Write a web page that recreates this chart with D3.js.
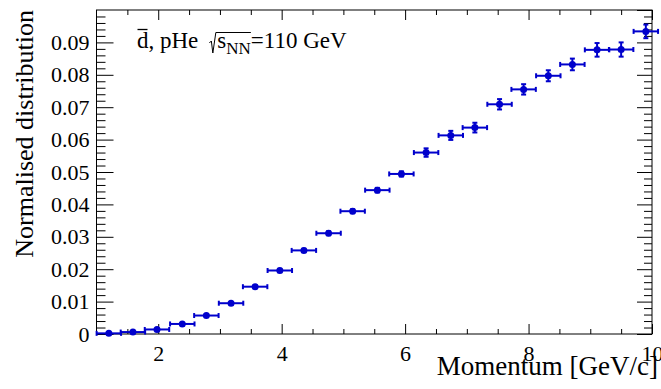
<!DOCTYPE html>
<html>
<head>
<meta charset="utf-8">
<script src="https://cdn.jsdelivr.net/npm/d3@7"></script>
<style>
  body{margin:0;background:#fff;}
  svg{display:block;font-family:"Liberation Serif","Times New Roman",serif;}
  svg text{font-family:"Liberation Serif","Times New Roman",serif;}
</style>
</head>
<body>
<svg id="chart" width="661" height="389"></svg>
<script>
// momentum bin centres [GeV/c]
const binCenters = [1.20,1.59,1.98,2.39,2.78,3.18,3.57,3.97,4.36,4.76,5.15,5.55,5.94,6.34,6.74,7.13,7.53,7.92,8.32,8.71,9.11,9.50,9.90];
const binHalfWidth = 0.198;
// normalised distribution
const values = [0.0002,0.0006,0.0014,0.0031,0.0057,0.0095,0.0146,0.0196,0.0258,0.0311,0.0379,0.0444,0.0494,0.0560,0.0613,0.0637,0.0709,0.0755,0.0797,0.0832,0.0877,0.0878,0.0934];
const errors = [0.0001,0.0001,0.0002,0.0002,0.0003,0.0003,0.0004,0.0005,0.0005,0.0006,0.0006,0.0007,0.0008,0.0013,0.0014,0.0015,0.0016,0.0016,0.0017,0.0018,0.0021,0.0022,0.0021];
const xMajor = [2,4,6,8,10];
const yMajor = [0,0.01,0.02,0.03,0.04,0.05,0.06,0.07,0.08,0.09];
const xTitle = 'Momentum [GeV/c]';
const yTitle = 'Normalised distribution';

const frame = {left:96.5,right:652,top:10,bottom:334};
const blue = '#0000cc';

const svg = d3.select('#chart');
const x = d3.scaleLinear().domain([1,10]).range([frame.left,frame.right]);
const y = d3.scaleLinear().domain([0,0.1]).range([frame.bottom,frame.top]);

const xMinor = d3.range(1.5,10,0.5).filter(v=>!xMajor.includes(v));
const yMinor = d3.range(0,0.1001,0.002).map(v=>+v.toFixed(3)).filter(v=>Math.round(v*1000)%10!==0);

const styleAxis = g=>{
  g.attr('font-family',null).attr('font-size',null);
  g.select('.domain').remove();
  g.selectAll('.tick line').attr('stroke','#000').attr('stroke-width',1);
  g.selectAll('text').attr('fill','#000').style('font-size','22px');
};

// bottom
svg.append('g').attr('transform',`translate(0,${frame.bottom})`)
  .call(d3.axisBottom(x).tickValues(xMajor).tickSize(-10).tickPadding(11).tickFormat(d3.format('d'))).call(styleAxis);
svg.append('g').attr('transform',`translate(0,${frame.bottom})`)
  .call(d3.axisBottom(x).tickValues(xMinor).tickSize(-5).tickFormat('')).call(styleAxis);
// top
svg.append('g').attr('transform',`translate(0,${frame.top})`)
  .call(d3.axisTop(x).tickValues(xMajor).tickSize(-10).tickFormat('')).call(styleAxis);
svg.append('g').attr('transform',`translate(0,${frame.top})`)
  .call(d3.axisTop(x).tickValues(xMinor).tickSize(-5).tickFormat('')).call(styleAxis);
// left
svg.append('g').attr('transform',`translate(${frame.left},0)`)
  .call(d3.axisLeft(y).tickValues(yMajor).tickSize(-17).tickPadding(7).tickFormat(d=>d===0?'0':d3.format('.2f')(d))).call(styleAxis);
svg.append('g').attr('transform',`translate(${frame.left},0)`)
  .call(d3.axisLeft(y).tickValues(yMinor).tickSize(-9).tickFormat('')).call(styleAxis);
// right
svg.append('g').attr('transform',`translate(${frame.right},0)`)
  .call(d3.axisRight(y).tickValues(yMajor.concat([0.1])).tickSize(-15).tickFormat('')).call(styleAxis);
svg.append('g').attr('transform',`translate(${frame.right},0)`)
  .call(d3.axisRight(y).tickValues(yMinor).tickSize(-8).tickFormat('')).call(styleAxis);

svg.append('rect').attr('x',frame.left).attr('y',frame.top)
  .attr('width',frame.right-frame.left).attr('height',frame.bottom-frame.top)
  .attr('fill','none').attr('stroke','#000').attr('stroke-width',1);

// axis titles
svg.append('text').attr('x',658).attr('y',375).attr('text-anchor','end')
  .style('font-size','27px').text(xTitle);
svg.append('text').attr('transform','translate(33,10) rotate(-90)').attr('text-anchor','end')
  .style('font-size','26px').text(yTitle);

// data points with error bars
const pts = binCenters.map((c,i)=>({x:c,y:values[i],e:errors[i]}));
const pg = svg.append('g').attr('stroke',blue).attr('stroke-width',2);
const cap = 2.5;
pts.forEach(d=>{
  const cx=x(d.x), cy=y(d.y), x0=x(d.x-binHalfWidth), x1=x(d.x+binHalfWidth);
  const y0=y(d.y-d.e), y1=y(d.y+d.e);
  pg.append('line').attr('x1',x0).attr('x2',x1).attr('y1',cy).attr('y2',cy);
  pg.append('line').attr('x1',x0).attr('x2',x0).attr('y1',cy-cap).attr('y2',cy+cap);
  pg.append('line').attr('x1',x1).attr('x2',x1).attr('y1',cy-cap).attr('y2',cy+cap);
  pg.append('line').attr('x1',cx).attr('x2',cx).attr('y1',y0).attr('y2',y1);
  pg.append('line').attr('x1',cx-cap).attr('x2',cx+cap).attr('y1',y0).attr('y2',y0);
  pg.append('line').attr('x1',cx-cap).attr('x2',cx+cap).attr('y1',y1).attr('y2',y1);
});
svg.append('g').selectAll('circle').data(pts).join('circle')
  .attr('cx',d=>x(d.x)).attr('cy',d=>y(d.y)).attr('r',3.5).attr('fill',blue);

// annotation: d-bar, pHe sqrt(s_NN)=110 GeV
const lab = svg.append('g');
const base = 48, fs = 23;
let cx = 137;
function piece(str,size,dy){
  const t = lab.append('text').attr('x',cx).attr('y',base+(dy||0)).style('font-size',size+'px').text(str);
  const w = t.node().getComputedTextLength();
  const start = cx; cx += w; return {start,w};
}
const dd = piece('d',fs);
lab.append('line').attr('x1',dd.start+0.5).attr('x2',dd.start+dd.w-1).attr('y1',base-18.5).attr('y2',base-18.5).attr('stroke','#000').attr('stroke-width',1.3);
piece(', pHe',fs);
cx = Math.max(cx+11, 205);
const rx = cx;
cx += 8;
piece('s',fs);
piece('NN',17,5.5);
lab.append('path')
  .attr('d',`M${rx},${base-5} L${rx+2},${base-7} L${rx+3.5},${base+5} L${rx+6.5},${base-15.5} L${cx},${base-15.5}`)
  .attr('fill','none').attr('stroke','#000').attr('stroke-width',1);
piece('=110 GeV',fs);
</script>
</body>
</html>
